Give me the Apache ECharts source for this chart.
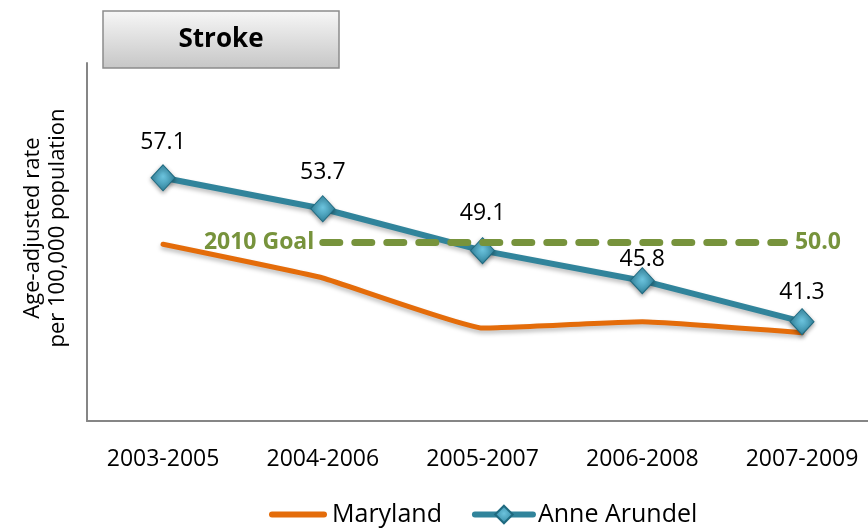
<!DOCTYPE html>
<html>
<head>
<meta charset="utf-8">
<script src="https://cdn.jsdelivr.net/npm/echarts@6/dist/echarts.min.js"></script>
<style>
html, body { margin: 0; padding: 0; background: #fff; }
#chart { width: 868px; height: 529px; }
</style>
</head>
<body>
<div id="chart"></div>
<script>
// categories and values
var periods = ['2003-2005', '2004-2006', '2005-2007', '2006-2008', '2007-2009']
var maryland = [49.8, 46.1, 40.6, 41.3, 40.1]
var anneArundel = [57.1, 53.7, 49.1, 45.8, 41.3]
var goalValue = 50.0
var goalName = '2010 Goal'

// where the goal line starts and stops along the category axis
var goalFrom = 1
var goalTo = 3.89
// gap between each Anne Arundel point and its value label
var aaLabelGap = [10, 11, 12, -4, 4]

var font = '"Open Sans", "Noto Sans", sans-serif'
var teal = '#31849B'
var orange = '#E46C0A'
var green = '#77933C'

var chart = echarts.init(document.getElementById('chart'))

var aaData = anneArundel.map(function (v, i) {
  return { value: [i, v], label: { distance: aaLabelGap[i] } }
})
var mdData = maryland.map(function (v, i) { return [i, v] })

chart.setOption({
  animation: false,
  backgroundColor: '#fff',
  grid: { left: 87, right: 0, top: 63, bottom: 108 },
  legend: {
    data: [
      { name: 'Maryland', icon: 'path://M3,0 H55 A3,3 0 0 1 55,6 H3 A3,3 0 0 1 3,0 Z' },
      { name: 'Anne Arundel' }
    ],
    left: 264,
    top: 497,
    itemWidth: 58,
    itemHeight: 22,
    itemGap: 30,
    lineStyle: { width: 6, cap: 'round' },
    textStyle: { fontFamily: font, fontSize: 25, color: '#000' }
  },
  graphic: [
    {
      type: 'rect',
      shape: { x: 103, y: 11, width: 236, height: 57 },
      style: {
        fill: new echarts.graphic.LinearGradient(0, 0, 0, 1, [
          { offset: 0, color: '#F7F7F7' },
          { offset: 1, color: '#C6C6C6' }
        ]),
        stroke: '#8C8C8C',
        lineWidth: 1.5
      }
    },
    {
      type: 'text',
      x: 221,
      y: 40,
      style: {
        text: 'Stroke',
        font: 'bold 26px ' + font,
        fill: '#000',
        align: 'center',
        verticalAlign: 'middle'
      }
    },
    {
      type: 'text',
      x: 45,
      y: 228,
      rotation: Math.PI / 2,
      style: {
        text: 'Age-adjusted rate\nper 100,000 population',
        font: '22px ' + font,
        lineHeight: 25,
        fill: '#000',
        align: 'center',
        verticalAlign: 'middle'
      }
    }
  ],
  xAxis: {
    type: 'value',
    min: -0.476,
    max: 4.413,
    splitLine: { show: false },
    axisTick: { show: false },
    axisLine: { onZero: false, lineStyle: { color: '#868686', width: 2 } },
    axisLabel: {
      customValues: [0, 1, 2, 3, 4],
      formatter: function (v) { return periods[Math.round(v)] },
      margin: 27,
      fontFamily: font,
      fontSize: 23,
      color: '#000'
    }
  },
  yAxis: {
    type: 'value',
    min: 30.4,
    max: 69.7,
    splitLine: { show: false },
    axisTick: { show: false },
    axisLabel: { show: false },
    axisLine: { show: true, onZero: false, lineStyle: { color: '#868686', width: 2 } }
  },
  series: [
    {
      name: 'Maryland',
      type: 'line',
      data: mdData,
      smooth: 0.1,
      symbol: 'none',
      z: 2,
      itemStyle: { color: orange },
      lineStyle: {
        color: orange,
        width: 5,
        cap: 'round',
        join: 'round',
        shadowColor: 'rgba(0,0,0,0.25)',
        shadowBlur: 4,
        shadowOffsetY: 3
      }
    },
    {
      name: 'Anne Arundel',
      type: 'line',
      data: aaData,
      symbol: 'diamond',
      symbolSize: [24, 26],
      z: 3,
      itemStyle: {
        color: new echarts.graphic.RadialGradient(0.5, 0.45, 0.6, [
          { offset: 0, color: '#6CC3DD' },
          { offset: 1, color: '#2B7F99' }
        ]),
        borderColor: '#1F6A80',
        borderWidth: 1,
        shadowColor: 'rgba(0,0,0,0.35)',
        shadowBlur: 4,
        shadowOffsetY: 2
      },
      lineStyle: {
        color: teal,
        width: 6,
        cap: 'round',
        join: 'round',
        shadowColor: 'rgba(0,0,0,0.25)',
        shadowBlur: 4,
        shadowOffsetY: 3
      },
      label: {
        show: true,
        position: 'top',
        fontFamily: font,
        fontSize: 23,
        color: '#000',
        formatter: function (p) { return p.value[1].toFixed(1) }
      }
    },
    {
      name: 'goal',
      type: 'line',
      z: 5,
      symbol: 'circle',
      symbolSize: 1,
      itemStyle: { color: green },
      lineStyle: { color: green, width: 7, type: [17, 15], cap: 'round' },
      data: [
        {
          value: [goalFrom, goalValue],
          label: { show: true, position: 'left', distance: 8, formatter: goalName }
        },
        {
          value: [goalTo, goalValue],
          label: { show: true, position: 'right', distance: 10, formatter: goalValue.toFixed(1) }
        }
      ],
      label: { fontFamily: font, fontSize: 23, fontWeight: 'bold', color: green }
    }
  ]
})
</script>
</body>
</html>
